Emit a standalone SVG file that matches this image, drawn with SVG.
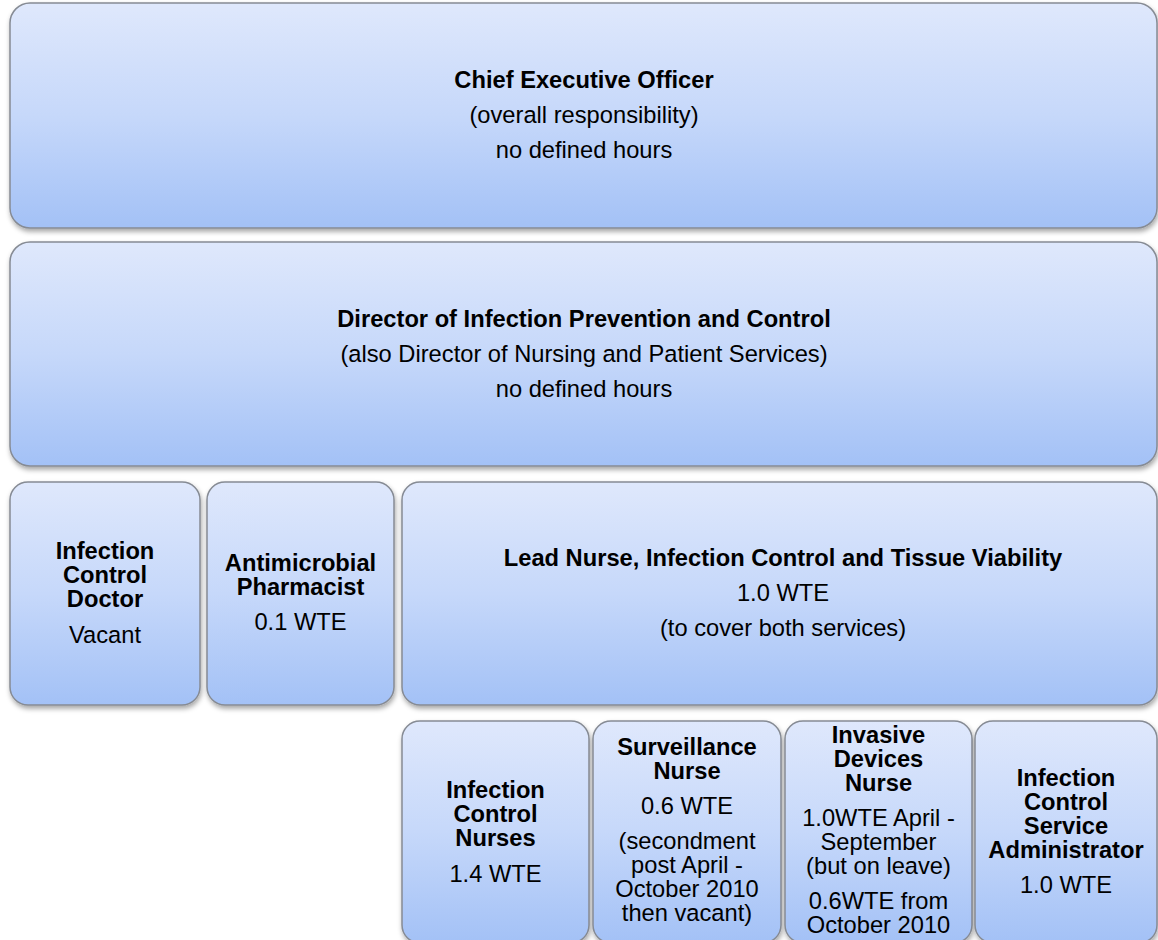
<svg xmlns="http://www.w3.org/2000/svg" width="1158" height="940" viewBox="0 0 1158 940">
<defs>
<linearGradient id="g" x1="0" y1="0" x2="0" y2="1">
<stop offset="0" stop-color="#dfe8fc"/>
<stop offset="0.5" stop-color="#c6d8fa"/>
<stop offset="1" stop-color="#a3c1f6"/>
</linearGradient>
<filter id="sh" x="-5%" y="-5%" width="110%" height="115%">
<feDropShadow dx="1" dy="3" stdDeviation="2.5" flood-color="#000" flood-opacity="0.35"/>
</filter>
<style>
.box{fill:url(#g);stroke:#868b94;stroke-width:1.5;filter:url(#sh)}
text{font-family:"Liberation Sans",Arial,sans-serif;font-size:23.7px;fill:#000;text-anchor:middle}
.b{font-weight:bold}
</style>
</defs>
<rect width="1158" height="940" fill="#fff"/>
<g id="ceo">
<rect class="box" x="10" y="3" width="1147" height="225" rx="20"/>
<text class="b" x="584" y="88">Chief Executive Officer</text>
<text x="584" y="123">(overall responsibility)</text>
<text x="584" y="158">no defined hours</text>
</g>
<g id="dipc">
<rect class="box" x="10" y="242" width="1147" height="224" rx="20"/>
<text class="b" x="584" y="327">Director of Infection Prevention and Control</text>
<text x="584" y="362">(also Director of Nursing and Patient Services)</text>
<text x="584" y="397">no defined hours</text>
</g>
<g id="icd">
<rect class="box" x="10" y="482" width="190" height="223" rx="18"/>
<text class="b" x="105" y="559">Infection</text>
<text class="b" x="105" y="583">Control</text>
<text class="b" x="105" y="607">Doctor</text>
<text x="105" y="643">Vacant</text>
</g>
<g id="pharm">
<rect class="box" x="207" y="482" width="187" height="223" rx="18"/>
<text class="b" x="300.5" y="571">Antimicrobial</text>
<text class="b" x="300.5" y="595">Pharmacist</text>
<text x="300.5" y="630">0.1 WTE</text>
</g>
<g id="lead">
<rect class="box" x="402" y="482" width="755" height="223" rx="18"/>
<text class="b" x="783" y="566">Lead Nurse, Infection Control and Tissue Viability</text>
<text x="783" y="601">1.0 WTE</text>
<text x="783" y="636">(to cover both services)</text>
</g>
<g id="icn">
<rect class="box" x="402" y="721" width="187" height="222" rx="18"/>
<text class="b" x="495.5" y="798">Infection</text>
<text class="b" x="495.5" y="822">Control</text>
<text class="b" x="495.5" y="846">Nurses</text>
<text x="495.5" y="882">1.4 WTE</text>
</g>
<g id="surv">
<rect class="box" x="593" y="721" width="188" height="222" rx="18"/>
<text class="b" x="687" y="755">Surveillance</text>
<text class="b" x="687" y="779">Nurse</text>
<text x="687" y="814">0.6 WTE</text>
<text x="687" y="849">(secondment</text>
<text x="687" y="873">post April -</text>
<text x="687" y="897">October 2010</text>
<text x="687" y="921">then vacant)</text>
</g>
<g id="invasive">
<rect class="box" x="785" y="721" width="187" height="222" rx="18"/>
<text class="b" x="878.5" y="743">Invasive</text>
<text class="b" x="878.5" y="767">Devices</text>
<text class="b" x="878.5" y="791">Nurse</text>
<text x="878.5" y="826">1.0WTE April -</text>
<text x="878.5" y="850">September</text>
<text x="878.5" y="874">(but on leave)</text>
<text x="878.5" y="909">0.6WTE from</text>
<text x="878.5" y="933">October 2010</text>
</g>
<g id="admin">
<rect class="box" x="975" y="721" width="182" height="222" rx="18"/>
<text class="b" x="1066" y="786">Infection</text>
<text class="b" x="1066" y="810">Control</text>
<text class="b" x="1066" y="834">Service</text>
<text class="b" x="1066" y="858">Administrator</text>
<text x="1066" y="893">1.0 WTE</text>
</g>
</svg>
